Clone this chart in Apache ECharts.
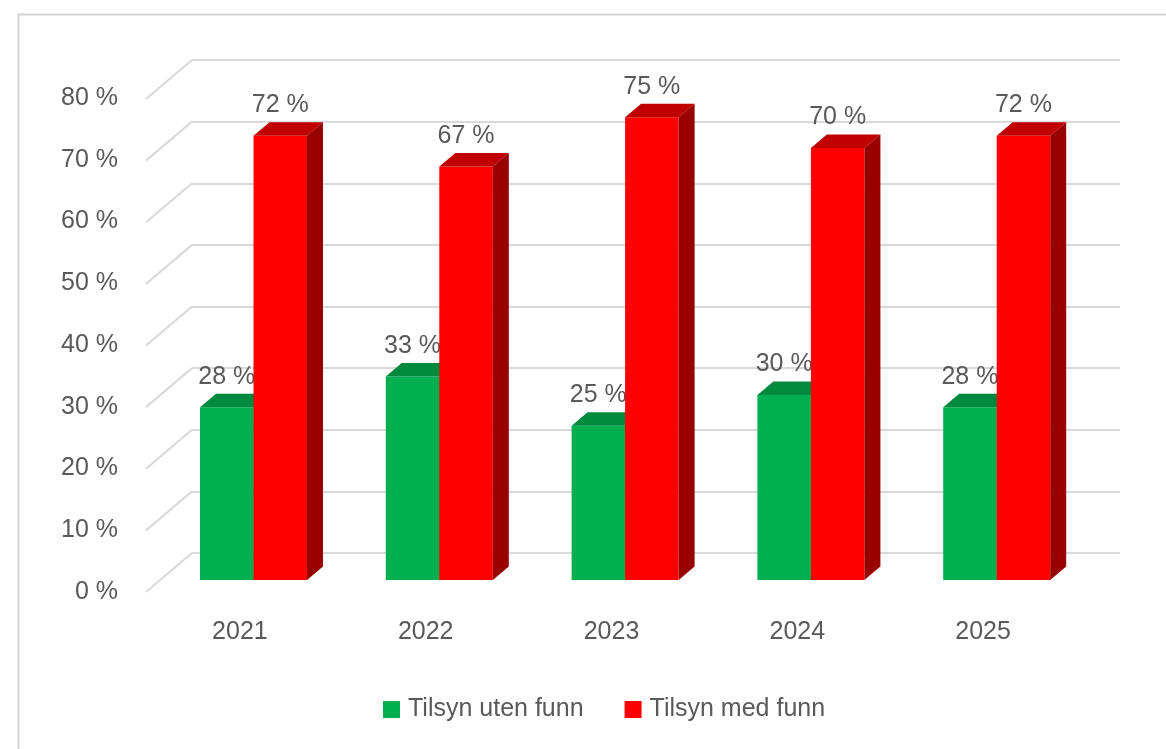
<!DOCTYPE html>
<html>
<head>
<meta charset="utf-8">
<script src="https://cdn.jsdelivr.net/npm/echarts@6/dist/echarts.min.js"></script>
<style>
  html, body { margin: 0; padding: 0; background: #ffffff; }
  #chart { width: 1166px; height: 749px; }
</style>
</head>
<body>
<div id="chart"></div>
<script>
// Andel tilsyn med og uten funn per år
const years = ['2021', '2022', '2023', '2024', '2025'];
const utenFunn = [28, 33, 25, 30, 28];
const medFunn = [72, 67, 75, 70, 72];
const percentTicks = [0, 10, 20, 30, 40, 50, 60, 70, 80];

const TEXT = '#595959';
const FONT = 'Liberation Sans';
const GRID_LINE = '#d9d9d9';
// depth of the 3D columns and of the floor (pixels)
const DX = 16, DY = 13.5;
const FLOOR_DX = 46, FLOOR_DY = 39;

function column(side, front, top, right) {
  return function (params, api) {
    const idx = api.value(0);
    const val = api.value(1);
    const p = api.coord([idx, val]);
    const b = api.coord([idx, 0]);
    const w = api.size([1, 0])[0] * 0.288;
    const x0 = side === 'left' ? p[0] - w : p[0];
    const y1 = p[1], y0 = b[1];
    return {
      type: 'group',
      children: [
        { type: 'rect', shape: { x: x0, y: y1, width: w, height: y0 - y1 }, style: { fill: front } },
        { type: 'polygon', shape: { points: [[x0, y1], [x0 + DX, y1 - DY], [x0 + w + DX, y1 - DY], [x0 + w, y1]] }, style: { fill: top } },
        { type: 'polygon', shape: { points: [[x0 + w, y1], [x0 + w + DX, y1 - DY], [x0 + w + DX, y0 - DY], [x0 + w, y0]] }, style: { fill: right } },
        { type: 'text', style: { text: val + ' %', x: x0 + w / 2, y: y1 - DY - 17, align: 'center', verticalAlign: 'middle', fill: TEXT, fontSize: 25, fontFamily: FONT } }
      ]
    };
  };
}

const chart = echarts.init(document.getElementById('chart'));
chart.setOption({
  backgroundColor: '#ffffff',
  animation: false,
  graphic: [{
    type: 'rect', left: 16, top: 12, z: -10,
    shape: { width: 1300, height: 900 },
    style: { fill: 'none', stroke: '#d4d4d4', lineWidth: 2 }
  }],
  grid: [
    // back wall
    { left: 192, right: 46, top: 60, bottom: 196 },
    // front edge of the floor: value and year labels
    { left: 147, right: 90, top: 98, bottom: 157 },
    // columns
    { left: 160.6, right: 76.4, top: 86.4, bottom: 169 }
  ],
  xAxis: [
    { gridIndex: 0, type: 'value', min: 0, max: 1, show: false },
    {
      gridIndex: 1, type: 'category', data: years,
      axisLine: { show: false }, axisTick: { show: false },
      axisLabel: { color: TEXT, fontSize: 25, fontFamily: FONT, margin: 28 }
    },
    { gridIndex: 2, type: 'category', data: years, show: false }
  ],
  yAxis: [
    {
      gridIndex: 0, type: 'value', min: 0, max: 80, interval: 10,
      axisLine: { show: false }, axisTick: { show: false }, axisLabel: { show: false },
      splitLine: { show: true, lineStyle: { color: GRID_LINE, width: 2 } }
    },
    {
      gridIndex: 1, type: 'value', min: 0, max: 80, interval: 10,
      axisLine: { show: false }, axisTick: { show: false },
      splitLine: { show: false },
      axisLabel: { color: TEXT, fontSize: 25, fontFamily: FONT, margin: 29, formatter: '{value} %' }
    },
    { gridIndex: 2, type: 'value', min: 0, max: 80, show: false }
  ],
  legend: {
    left: 378, top: 692,
    icon: 'rect', itemWidth: 17, itemHeight: 17, itemGap: 41,
    textStyle: { color: TEXT, fontSize: 25, fontFamily: FONT, padding: [0, 0, 0, 3] },
    data: ['Tilsyn uten funn', 'Tilsyn med funn']
  },
  series: [
    {
      // diagonal floor lines from the value labels to the back wall
      type: 'custom', xAxisIndex: 0, yAxisIndex: 0, silent: true, clip: false, z: 1,
      data: percentTicks.map(v => [0, v]),
      renderItem: function (params, api) {
        const p = api.coord([0, api.value(1)]);
        return {
          type: 'line',
          shape: { x1: p[0] - FLOOR_DX, y1: p[1] + FLOOR_DY, x2: p[0], y2: p[1] },
          style: { stroke: GRID_LINE, lineWidth: 2 }
        };
      }
    },
    {
      name: 'Tilsyn uten funn', type: 'custom', xAxisIndex: 2, yAxisIndex: 2, clip: false, z: 5,
      itemStyle: { color: '#00b050' },
      data: utenFunn.map((v, i) => [i, v]),
      renderItem: column('left', '#00b050', '#008a3e', '#006b30')
    },
    {
      name: 'Tilsyn med funn', type: 'custom', xAxisIndex: 2, yAxisIndex: 2, clip: false, z: 6,
      itemStyle: { color: '#ff0000' },
      data: medFunn.map((v, i) => [i, v]),
      renderItem: column('right', '#ff0000', '#c00000', '#990000')
    }
  ]
});
</script>
</body>
</html>
